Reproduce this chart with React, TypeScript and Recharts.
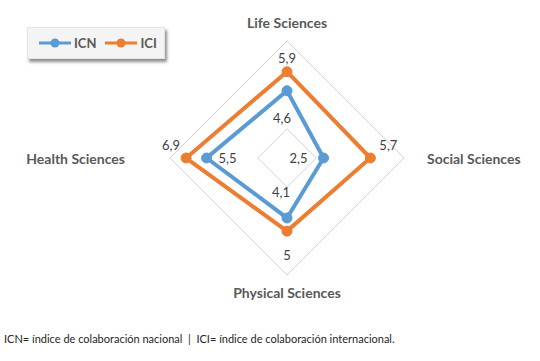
import { RadarChart, Radar, PolarGrid, PolarAngleAxis, PolarRadiusAxis, Legend } from 'recharts';

// categories clockwise from the top
const categories = ['Life Sciences', 'Social Sciences', 'Physical Sciences', 'Health Sciences'];
const icnValues = [4.6, 2.5, 4.1, 5.5];
const iciValues = [5.9, 5.7, 5, 6.9];
const seriesNames = ['ICN', 'ICI'];
const radiusTicks = [0, 2, 8];

const data = categories.map((c, i) => ({ area: c, ICN: icnValues[i], ICI: iciValues[i] }));

const CX = 287;
const CY = 158;
const FONT = 'Lato, "Open Sans", sans-serif';
const BLUE = '#5b9bd5';
const ORANGE = '#ed7d31';

type Dir = 'top' | 'right' | 'bottom' | 'left';

function direction(x: number, y: number): Dir {
  const dx = x - CX;
  const dy = y - CY;
  if (Math.abs(dy) > Math.abs(dx)) return dy < 0 ? 'top' : 'bottom';
  return dx > 0 ? 'right' : 'left';
}

// where the value label sits relative to its point
const outerOffsets: Record<Dir, [number, number]> = {
  top: [0, -14],
  right: [18, -13],
  bottom: [0, 24],
  left: [-15, -13],
};
const innerOffsets: Record<Dir, [number, number]> = {
  top: [-5, 27],
  right: [-25, 0],
  bottom: [-6, -26],
  left: [21, 0],
};

function fmt(v: number) {
  return String(v).replace('.', ',');
}

function makeDot(color: string, offsets: Record<Dir, [number, number]>) {
  return (props: any) => {
    const { cx, cy, index } = props;
    const value = props.payload?.value ?? props.value;
    const [ox, oy] = offsets[direction(cx, cy)];
    return (
      <g key={`dot-${index}`}>
        <circle cx={cx} cy={cy} r={5} fill={color} stroke={color} strokeWidth={1} />
        <text
          x={cx + ox}
          y={cy + oy}
          textAnchor="middle"
          dominantBaseline="central"
          fontFamily={FONT}
          fontSize={13}
          fill="#404040"
        >
          {fmt(Number(value))}
        </text>
      </g>
    );
  };
}

function AreaTick(props: any) {
  const { x, y, payload } = props;
  const dir = direction(x, y);
  let tx = x;
  let ty = y;
  let anchor = 'middle';
  if (dir === 'top') ty = y - 11;
  else if (dir === 'bottom') ty = y + 9;
  else if (dir === 'right') {
    tx = x + 15;
    anchor = 'start';
  } else {
    tx = x - 37;
    anchor = 'end';
  }
  return (
    <text
      x={tx}
      y={ty}
      textAnchor={anchor}
      dominantBaseline="central"
      fontFamily={FONT}
      fontWeight={700}
      fontSize={14}
      fill="#595959"
    >
      {payload.value}
    </text>
  );
}

function LegendBox(props: any) {
  const items = [...(props.payload || [])].sort(
    (a: any, b: any) => seriesNames.indexOf(a.value) - seriesNames.indexOf(b.value)
  );
  return (
    <div
      style={{
        display: 'flex',
        alignItems: 'center',
        gap: 9,
        width: 138,
        height: 32,
        paddingLeft: 11,
        boxSizing: 'border-box',
        background: '#f4f4f4',
        border: '1px solid #e4e4e4',
        boxShadow: '2px 3px 3px rgba(0,0,0,0.45)',
        fontFamily: FONT,
        fontWeight: 700,
        fontSize: 13,
        color: '#595959',
      }}
    >
      {items.map((it: any) => (
        <div key={it.value} style={{ display: 'flex', alignItems: 'center', gap: 3 }}>
          <svg width={32} height={10}>
            <line x1={0} y1={5} x2={32} y2={5} stroke={it.color} strokeWidth={3} />
            <circle cx={16} cy={5} r={4.5} fill={it.color} />
          </svg>
          <span>{it.value}</span>
        </div>
      ))}
    </div>
  );
}

export default function App() {
  return (
    <div style={{ position: 'absolute', left: 0, top: 0, width: 540, height: 361, background: '#fff' }}>
      <RadarChart width={540} height={320} data={data} cx={CX} cy={CY} outerRadius={117}>
        <PolarGrid gridType="polygon" radialLines={false} stroke="#d4d4d4" />
        <PolarAngleAxis dataKey="area" tick={<AreaTick />} tickLine={false} axisLine={false} />
        <PolarRadiusAxis domain={[0, 8]} ticks={radiusTicks} tick={false} axisLine={false} />
        <Legend
          content={<LegendBox />}
          wrapperStyle={{ position: 'absolute', left: 27, top: 27, width: 'auto', height: 'auto' }}
        />
        <Radar
          name="ICN"
          dataKey="ICN"
          stroke={BLUE}
          strokeWidth={4}
          fill="none"
          fillOpacity={0}
          dot={makeDot(BLUE, innerOffsets)}
          isAnimationActive={false}
        />
        <Radar
          name="ICI"
          dataKey="ICI"
          stroke={ORANGE}
          strokeWidth={4}
          fill="none"
          fillOpacity={0}
          dot={makeDot(ORANGE, outerOffsets)}
          isAnimationActive={false}
        />
      </RadarChart>
      <div
        style={{
          position: 'absolute',
          left: 4,
          top: 332,
          fontFamily: FONT,
          fontSize: 11,
          color: '#262626',
          whiteSpace: 'nowrap',
        }}
      >
        ICN= índice de colaboración nacional&nbsp; |&nbsp; ICI= índice de colaboración internacional.
      </div>
    </div>
  );
}
